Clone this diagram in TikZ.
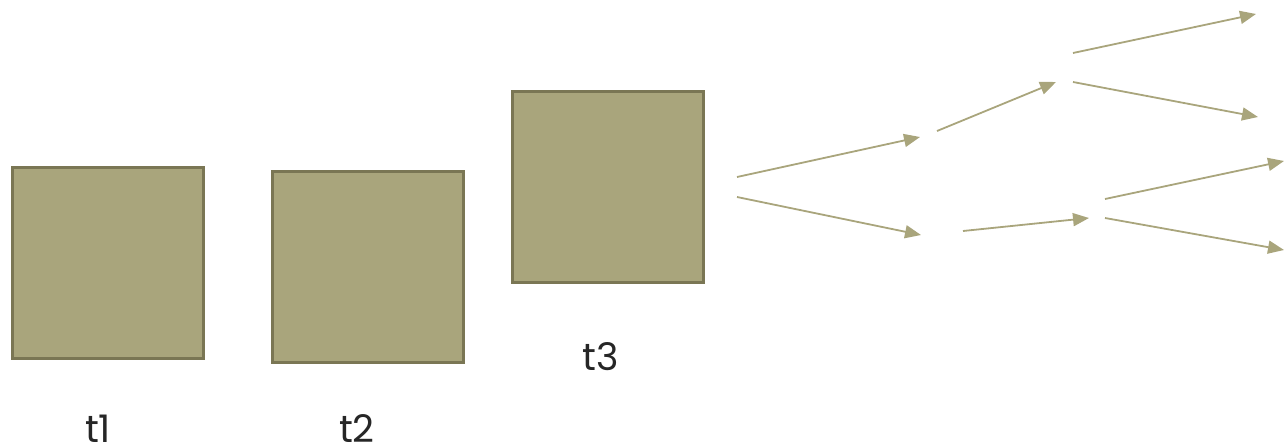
\documentclass[tikz,border=0pt]{standalone}
\usepackage{fontspec}
\setmainfont{Poppins}
\usepackage{xcolor}
\usepackage{tikz}
\usetikzlibrary{arrows.meta,positioning}

\definecolor{olivefill}{HTML}{A9A57C}
\definecolor{olivedraw}{HTML}{7A7654}

\begin{document}
\begin{tikzpicture}[
            x=1pt, y=-1pt,
            frame/.style={draw=olivedraw, line width=3pt, fill=olivefill, rectangle, minimum size=191pt, inner sep=0pt},
            lbl/.style={text=black!85, font=\fontsize{38}{44}\selectfont, inner sep=0pt},
            branch/.style={draw=olivefill, line width=1.8pt, -{Triangle[length=16pt,width=13pt]}}
        ]
            \useasboundingbox (0,0) rectangle (1284,447);

            \node[frame] (sq1) at (108,262.5) {};
            \node[frame] (sq2) at (367.5,267) {};
            \node[frame] (sq3) at (608,186.5) {};

            \node[lbl] (t1) at (98,429) {t1};
            \node[lbl] (t2) at (357,429) {t2};
            \node[lbl] (t3) at (601,357) {t3};

            % tree of possible futures
            \coordinate (r0a) at (737,177);
            \coordinate (r0b) at (737,197);
            \coordinate (up) at (920,137);
            \coordinate (dn) at (921,235);
            \coordinate (upa) at (937,131);
            \coordinate (upb) at (1056,82);
            \coordinate (dna) at (963,231);
            \coordinate (dnb) at (1089,218);
            \coordinate (uua) at (1073,53);
            \coordinate (uub) at (1256,14);
            \coordinate (uda) at (1073,82);
            \coordinate (udb) at (1258,117);
            \coordinate (dua) at (1105,199);
            \coordinate (dub) at (1284,161);
            \coordinate (dda) at (1105,218);
            \coordinate (ddb) at (1284,250);

            \draw[branch] (r0a) -- (up);
            \draw[branch] (r0b) -- (dn);
            \draw[branch] (upa) -- (upb);
            \draw[branch] (dna) -- (dnb);
            \draw[branch] (uua) -- (uub);
            \draw[branch] (uda) -- (udb);
            \draw[branch] (dua) -- (dub);
            \draw[branch] (dda) -- (ddb);
        \end{tikzpicture}
\end{document}
